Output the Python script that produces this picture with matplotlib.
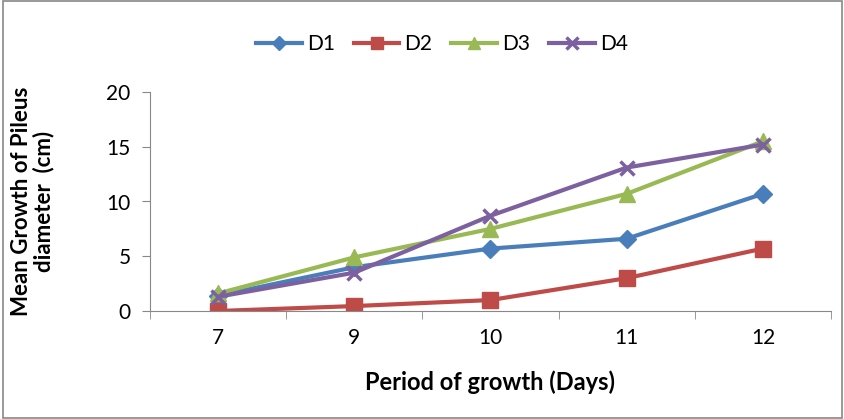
import matplotlib.pyplot as plt
from matplotlib.patches import Rectangle

days = ['7', '9', '10', '11', '12']
d1 = [1.4, 4.0, 5.7, 6.6, 10.7]
d2 = [0.0, 0.45, 1.0, 3.0, 5.7]
d3 = [1.6, 4.9, 7.5, 10.7, 15.5]
d4 = [1.3, 3.5, 8.7, 13.1, 15.2]

plt.rcParams['font.family'] = ['Lato', 'DejaVu Sans']

fig = plt.figure(figsize=(8.45, 4.19), dpi=100)
ax = fig.add_axes([150/845, 1 - 311/419, (831 - 150)/845, (311 - 92)/419])

x = range(len(days))
ax.plot(x, d1, color='#4A7EBB', lw=3, marker='D', ms=9, label='D1')
ax.plot(x, d2, color='#BE4B48', lw=3, marker='s', ms=11, label='D2')
ax.plot(x, d3, color='#98B954', lw=3, marker='^', ms=11, label='D3')
ax.plot(x, d4, color='#7D60A0', lw=3, marker='x', ms=10, mew=2.5, label='D4')

ax.set_xlim(-0.5, 4.5)
ax.set_ylim(0, 20)
ax.set_yticks([0, 5, 10, 15, 20])
ax.set_xticks(list(x))
ax.set_xticklabels(days)
ax.set_xticks([i - 0.5 for i in range(6)], minor=True)
ax.tick_params(axis='x', which='major', length=0, pad=12, labelsize=15)
ax.tick_params(axis='x', which='minor', length=6, color='#888888')
ax.tick_params(axis='y', length=6, color='#888888', pad=8, labelsize=15)

for s in ['top', 'right']:
    ax.spines[s].set_visible(False)
for s in ['left', 'bottom']:
    ax.spines[s].set_color('#888888')

ax.set_xlabel('Period of growth (Days)', fontsize=17, fontweight='bold')
ax.set_ylabel('Mean Growth of Pileus\ndiameter  (cm)', fontsize=16, fontweight='bold',
              linespacing=1.05)
ax.xaxis.set_label_coords(0.5, -0.27)
ax.yaxis.set_label_coords(-0.14, 0.5)

fig.legend(loc='center', bbox_to_anchor=(442/845, 1 - 44/419), ncol=4, frameon=False,
           fontsize=15, handlelength=2.2, columnspacing=0.9, handletextpad=0.25,
           markerscale=0.8)

fig.patches.append(Rectangle((0.003, 0.003), 0.994, 0.994, transform=fig.transFigure,
                             fill=False, edgecolor='#888888', lw=1.2))

fig.savefig('out.png', dpi=100)
